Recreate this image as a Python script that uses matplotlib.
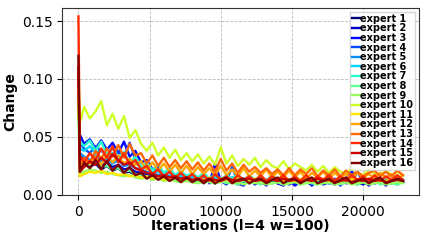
import matplotlib
matplotlib.use("Agg")
import matplotlib.pyplot as plt
import numpy as np

# iteration grid: first two logged points, then every 400 iterations
iters = [0, 100] + [400 * k for k in range(1, 58)]

expert_1 = [0.092, 0.030,
            0.026, 0.024, 0.027, 0.022, 0.025, 0.021, 0.023, 0.019, 0.020, 0.017,
            0.018, 0.015, 0.016, 0.014, 0.015, 0.013, 0.014, 0.012, 0.013, 0.012,
            0.011, 0.013, 0.012, 0.010, 0.012, 0.011, 0.013, 0.010, 0.012, 0.011,
            0.010, 0.012, 0.011, 0.013, 0.010, 0.011, 0.012, 0.010, 0.011, 0.012,
            0.010, 0.011, 0.013, 0.010, 0.011, 0.012, 0.010, 0.011, 0.012, 0.010,
            0.011, 0.012, 0.010, 0.011, 0.013, 0.010, 0.011]
expert_2 = [0.100, 0.034,
            0.030, 0.027, 0.031, 0.025, 0.028, 0.024, 0.026, 0.022, 0.023, 0.020,
            0.019, 0.017, 0.018, 0.015, 0.016, 0.014, 0.015, 0.013, 0.014, 0.012,
            0.013, 0.011, 0.012, 0.010, 0.013, 0.011, 0.012, 0.009, 0.011, 0.012,
            0.010, 0.011, 0.009, 0.012, 0.010, 0.011, 0.009, 0.012, 0.010, 0.011,
            0.009, 0.012, 0.010, 0.011, 0.009, 0.011, 0.012, 0.010, 0.011, 0.009,
            0.012, 0.010, 0.011, 0.009, 0.012, 0.010, 0.011]
expert_3 = [0.070, 0.052,
            0.044, 0.048, 0.040, 0.047, 0.039, 0.045, 0.036, 0.046, 0.033, 0.038,
            0.028, 0.030, 0.022, 0.024, 0.017, 0.020, 0.014, 0.018, 0.013, 0.016,
            0.011, 0.016, 0.010, 0.027, 0.012, 0.009, 0.015, 0.010, 0.008, 0.014,
            0.009, 0.013, 0.008, 0.014, 0.010, 0.008, 0.013, 0.008, 0.011, 0.014,
            0.008, 0.013, 0.009, 0.011, 0.014, 0.008, 0.013, 0.021, 0.009, 0.013,
            0.008, 0.012, 0.014, 0.008, 0.013, 0.009, 0.012]
expert_4 = [0.085, 0.045,
            0.040, 0.036, 0.042, 0.038, 0.035, 0.040, 0.037, 0.033, 0.045, 0.031,
            0.028, 0.025, 0.022, 0.020, 0.018, 0.019, 0.016, 0.015, 0.014, 0.016,
            0.013, 0.012, 0.014, 0.011, 0.013, 0.012, 0.024, 0.011, 0.012, 0.010,
            0.012, 0.011, 0.013, 0.010, 0.012, 0.011, 0.010, 0.012, 0.011, 0.013,
            0.010, 0.012, 0.011, 0.010, 0.012, 0.011, 0.013, 0.010, 0.020, 0.011,
            0.012, 0.010, 0.011, 0.013, 0.010, 0.012, 0.011]
expert_5 = [0.080, 0.036,
            0.033, 0.030, 0.034, 0.029, 0.031, 0.027, 0.030, 0.025, 0.026, 0.023,
            0.022, 0.020, 0.019, 0.017, 0.018, 0.016, 0.015, 0.016, 0.014, 0.013,
            0.014, 0.012, 0.013, 0.011, 0.014, 0.012, 0.013, 0.011, 0.012, 0.013,
            0.011, 0.012, 0.010, 0.013, 0.011, 0.012, 0.010, 0.012, 0.011, 0.013,
            0.010, 0.012, 0.011, 0.013, 0.010, 0.012, 0.011, 0.010, 0.012, 0.011,
            0.013, 0.010, 0.012, 0.011, 0.010, 0.012, 0.011]
expert_6 = [0.078, 0.040,
            0.038, 0.042, 0.036, 0.039, 0.033, 0.036, 0.031, 0.034, 0.029, 0.027,
            0.025, 0.023, 0.021, 0.020, 0.018, 0.019, 0.017, 0.016, 0.017, 0.015,
            0.014, 0.016, 0.013, 0.015, 0.014, 0.013, 0.015, 0.012, 0.014, 0.013,
            0.012, 0.014, 0.013, 0.012, 0.014, 0.012, 0.013, 0.011, 0.013, 0.012,
            0.014, 0.012, 0.011, 0.013, 0.012, 0.014, 0.011, 0.013, 0.012, 0.011,
            0.013, 0.012, 0.014, 0.011, 0.013, 0.012, 0.013]
expert_7 = [0.082, 0.046,
            0.042, 0.047, 0.038, 0.046, 0.035, 0.041, 0.032, 0.037, 0.028, 0.033,
            0.024, 0.028, 0.021, 0.026, 0.019, 0.023, 0.017, 0.021, 0.016, 0.019,
            0.015, 0.019, 0.014, 0.018, 0.013, 0.017, 0.014, 0.018, 0.012, 0.017,
            0.013, 0.016, 0.012, 0.017, 0.013, 0.016, 0.012, 0.015, 0.013, 0.016,
            0.012, 0.015, 0.013, 0.016, 0.012, 0.015, 0.013, 0.016, 0.012, 0.015,
            0.013, 0.016, 0.012, 0.015, 0.013, 0.016, 0.013]
expert_8 = [0.075, 0.028,
            0.030, 0.026, 0.028, 0.024, 0.025, 0.022, 0.023, 0.020, 0.021, 0.018,
            0.017, 0.016, 0.015, 0.014, 0.015, 0.013, 0.014, 0.012, 0.013, 0.011,
            0.012, 0.010, 0.013, 0.011, 0.012, 0.010, 0.011, 0.009, 0.012, 0.010,
            0.011, 0.009, 0.012, 0.010, 0.011, 0.009, 0.010, 0.012, 0.009, 0.011,
            0.010, 0.009, 0.011, 0.010, 0.012, 0.009, 0.011, 0.010, 0.009, 0.011,
            0.010, 0.012, 0.009, 0.011, 0.010, 0.009, 0.011]
expert_9 = [0.072, 0.018,
            0.020, 0.022, 0.021, 0.019, 0.020, 0.018, 0.017, 0.016, 0.017, 0.015,
            0.014, 0.015, 0.013, 0.014, 0.012, 0.013, 0.012, 0.011, 0.012, 0.011,
            0.010, 0.012, 0.011, 0.010, 0.011, 0.012, 0.010, 0.011, 0.009, 0.011,
            0.010, 0.011, 0.009, 0.010, 0.011, 0.009, 0.010, 0.011, 0.009, 0.010,
            0.011, 0.009, 0.010, 0.011, 0.009, 0.010, 0.011, 0.009, 0.010, 0.011,
            0.009, 0.010, 0.011, 0.009, 0.010, 0.011, 0.010]
expert_10 = [0.110, 0.062,
             0.076, 0.066, 0.072, 0.081, 0.060, 0.070, 0.057, 0.068, 0.049, 0.056,
             0.044, 0.038, 0.045, 0.034, 0.041, 0.032, 0.039, 0.030, 0.036, 0.029,
             0.035, 0.027, 0.033, 0.026, 0.041, 0.027, 0.034, 0.025, 0.031, 0.026,
             0.032, 0.024, 0.030, 0.025, 0.023, 0.029, 0.022, 0.027, 0.024, 0.021,
             0.026, 0.020, 0.025, 0.019, 0.024, 0.020, 0.018, 0.023, 0.019, 0.017,
             0.022, 0.018, 0.017, 0.021, 0.017, 0.020, 0.017]
expert_11 = [0.095, 0.016,
             0.018, 0.020, 0.019, 0.021, 0.018, 0.019, 0.017, 0.018, 0.016, 0.017,
             0.015, 0.016, 0.014, 0.015, 0.013, 0.014, 0.015, 0.013, 0.014, 0.012,
             0.014, 0.013, 0.015, 0.012, 0.014, 0.013, 0.012, 0.014, 0.013, 0.012,
             0.014, 0.013, 0.012, 0.013, 0.014, 0.012, 0.013, 0.012, 0.014, 0.013,
             0.012, 0.013, 0.014, 0.012, 0.013, 0.012, 0.014, 0.013, 0.012, 0.013,
             0.014, 0.012, 0.013, 0.012, 0.014, 0.013, 0.012]
expert_12 = [0.100, 0.024,
             0.030, 0.027, 0.033, 0.026, 0.035, 0.028, 0.034, 0.027, 0.031, 0.026,
             0.029, 0.022, 0.028, 0.021, 0.027, 0.020, 0.026, 0.019, 0.025, 0.018,
             0.024, 0.018, 0.023, 0.017, 0.025, 0.017, 0.022, 0.016, 0.023, 0.016,
             0.021, 0.016, 0.022, 0.015, 0.020, 0.015, 0.021, 0.015, 0.020, 0.014,
             0.019, 0.015, 0.020, 0.014, 0.019, 0.015, 0.018, 0.014, 0.019, 0.015,
             0.018, 0.014, 0.019, 0.015, 0.018, 0.014, 0.017]
expert_13 = [0.105, 0.026,
             0.032, 0.028, 0.038, 0.031, 0.040, 0.033, 0.043, 0.032, 0.044, 0.034,
             0.036, 0.027, 0.034, 0.025, 0.032, 0.024, 0.030, 0.023, 0.029, 0.022,
             0.028, 0.021, 0.027, 0.020, 0.031, 0.021, 0.027, 0.019, 0.026, 0.020,
             0.024, 0.019, 0.023, 0.018, 0.022, 0.017, 0.023, 0.017, 0.022, 0.018,
             0.023, 0.016, 0.021, 0.017, 0.022, 0.016, 0.021, 0.017, 0.020, 0.016,
             0.019, 0.021, 0.016, 0.020, 0.016, 0.021, 0.017]
expert_14 = [0.154, 0.034,
             0.028, 0.036, 0.030, 0.040, 0.032, 0.042, 0.028, 0.036, 0.026, 0.030,
             0.022, 0.025, 0.018, 0.022, 0.016, 0.020, 0.015, 0.019, 0.014, 0.018,
             0.013, 0.017, 0.012, 0.018, 0.013, 0.016, 0.012, 0.017, 0.013, 0.016,
             0.012, 0.017, 0.012, 0.016, 0.013, 0.017, 0.012, 0.016, 0.012, 0.017,
             0.012, 0.016, 0.013, 0.017, 0.012, 0.016, 0.012, 0.017, 0.013, 0.016,
             0.012, 0.017, 0.012, 0.016, 0.013, 0.017, 0.013]
expert_15 = [0.110, 0.020,
             0.024, 0.029, 0.026, 0.032, 0.028, 0.035, 0.030, 0.026, 0.028, 0.023,
             0.021, 0.019, 0.018, 0.016, 0.017, 0.015, 0.016, 0.014, 0.015, 0.013,
             0.014, 0.012, 0.014, 0.013, 0.012, 0.014, 0.013, 0.012, 0.013, 0.014,
             0.012, 0.013, 0.011, 0.013, 0.012, 0.014, 0.012, 0.013, 0.011, 0.013,
             0.012, 0.014, 0.012, 0.013, 0.011, 0.012, 0.013, 0.011, 0.013, 0.012,
             0.014, 0.012, 0.013, 0.011, 0.012, 0.013, 0.012]
expert_16 = [0.120, 0.020,
             0.028, 0.023, 0.030, 0.022, 0.029, 0.021, 0.026, 0.019, 0.024, 0.017,
             0.019, 0.014, 0.017, 0.013, 0.016, 0.012, 0.015, 0.011, 0.015, 0.011,
             0.014, 0.010, 0.014, 0.010, 0.013, 0.015, 0.010, 0.013, 0.014, 0.010,
             0.013, 0.014, 0.010, 0.013, 0.015, 0.010, 0.013, 0.014, 0.010, 0.013,
             0.015, 0.010, 0.012, 0.014, 0.010, 0.013, 0.015, 0.010, 0.012, 0.014,
             0.010, 0.013, 0.015, 0.010, 0.012, 0.014, 0.012]

experts = [expert_1, expert_2, expert_3, expert_4, expert_5, expert_6, expert_7, expert_8,
           expert_9, expert_10, expert_11, expert_12, expert_13, expert_14, expert_15, expert_16]
labels = ['expert %d' % (i + 1) for i in range(len(experts))]

for lab, vals in zip(labels, experts):
    if len(vals) != len(iters):
        raise ValueError('%s has %d values, expected %d' % (lab, len(vals), len(iters)))

colors = plt.cm.jet(np.linspace(0, 1, len(experts)))

fig = plt.figure(figsize=(4.26, 2.4), dpi=100)
ax = fig.add_axes([0.146, 0.188, 0.838, 0.779])

for vals, lab, c in zip(experts, labels, colors):
    ax.plot(iters, vals, color=c, lw=1.7, label=lab)

'''make the plot pretty'''
ax.grid(True, ls='--', color='#bbbbbb', lw=0.6)
ax.set_xticks([0, 5000, 10000, 15000, 20000])
ax.set_yticks([0.0, 0.05, 0.10, 0.15])
ax.tick_params(labelsize=10)
ax.set_xlabel('Iterations (l=4 w=100)', fontsize=10, fontweight='bold', labelpad=0)
ax.set_ylabel('Change', fontsize=10, fontweight='bold', labelpad=3)
for s in ax.spines.values():
    s.set_color('#333333')

leg = ax.legend(loc='upper right', prop={'size': 7, 'weight': 'bold'},
                handlelength=0.9, handletextpad=0.0, labelspacing=-0.04,
                borderpad=0.2, borderaxespad=0.4, fancybox=False, framealpha=0.8)

fig.savefig('out.png', dpi=100)
